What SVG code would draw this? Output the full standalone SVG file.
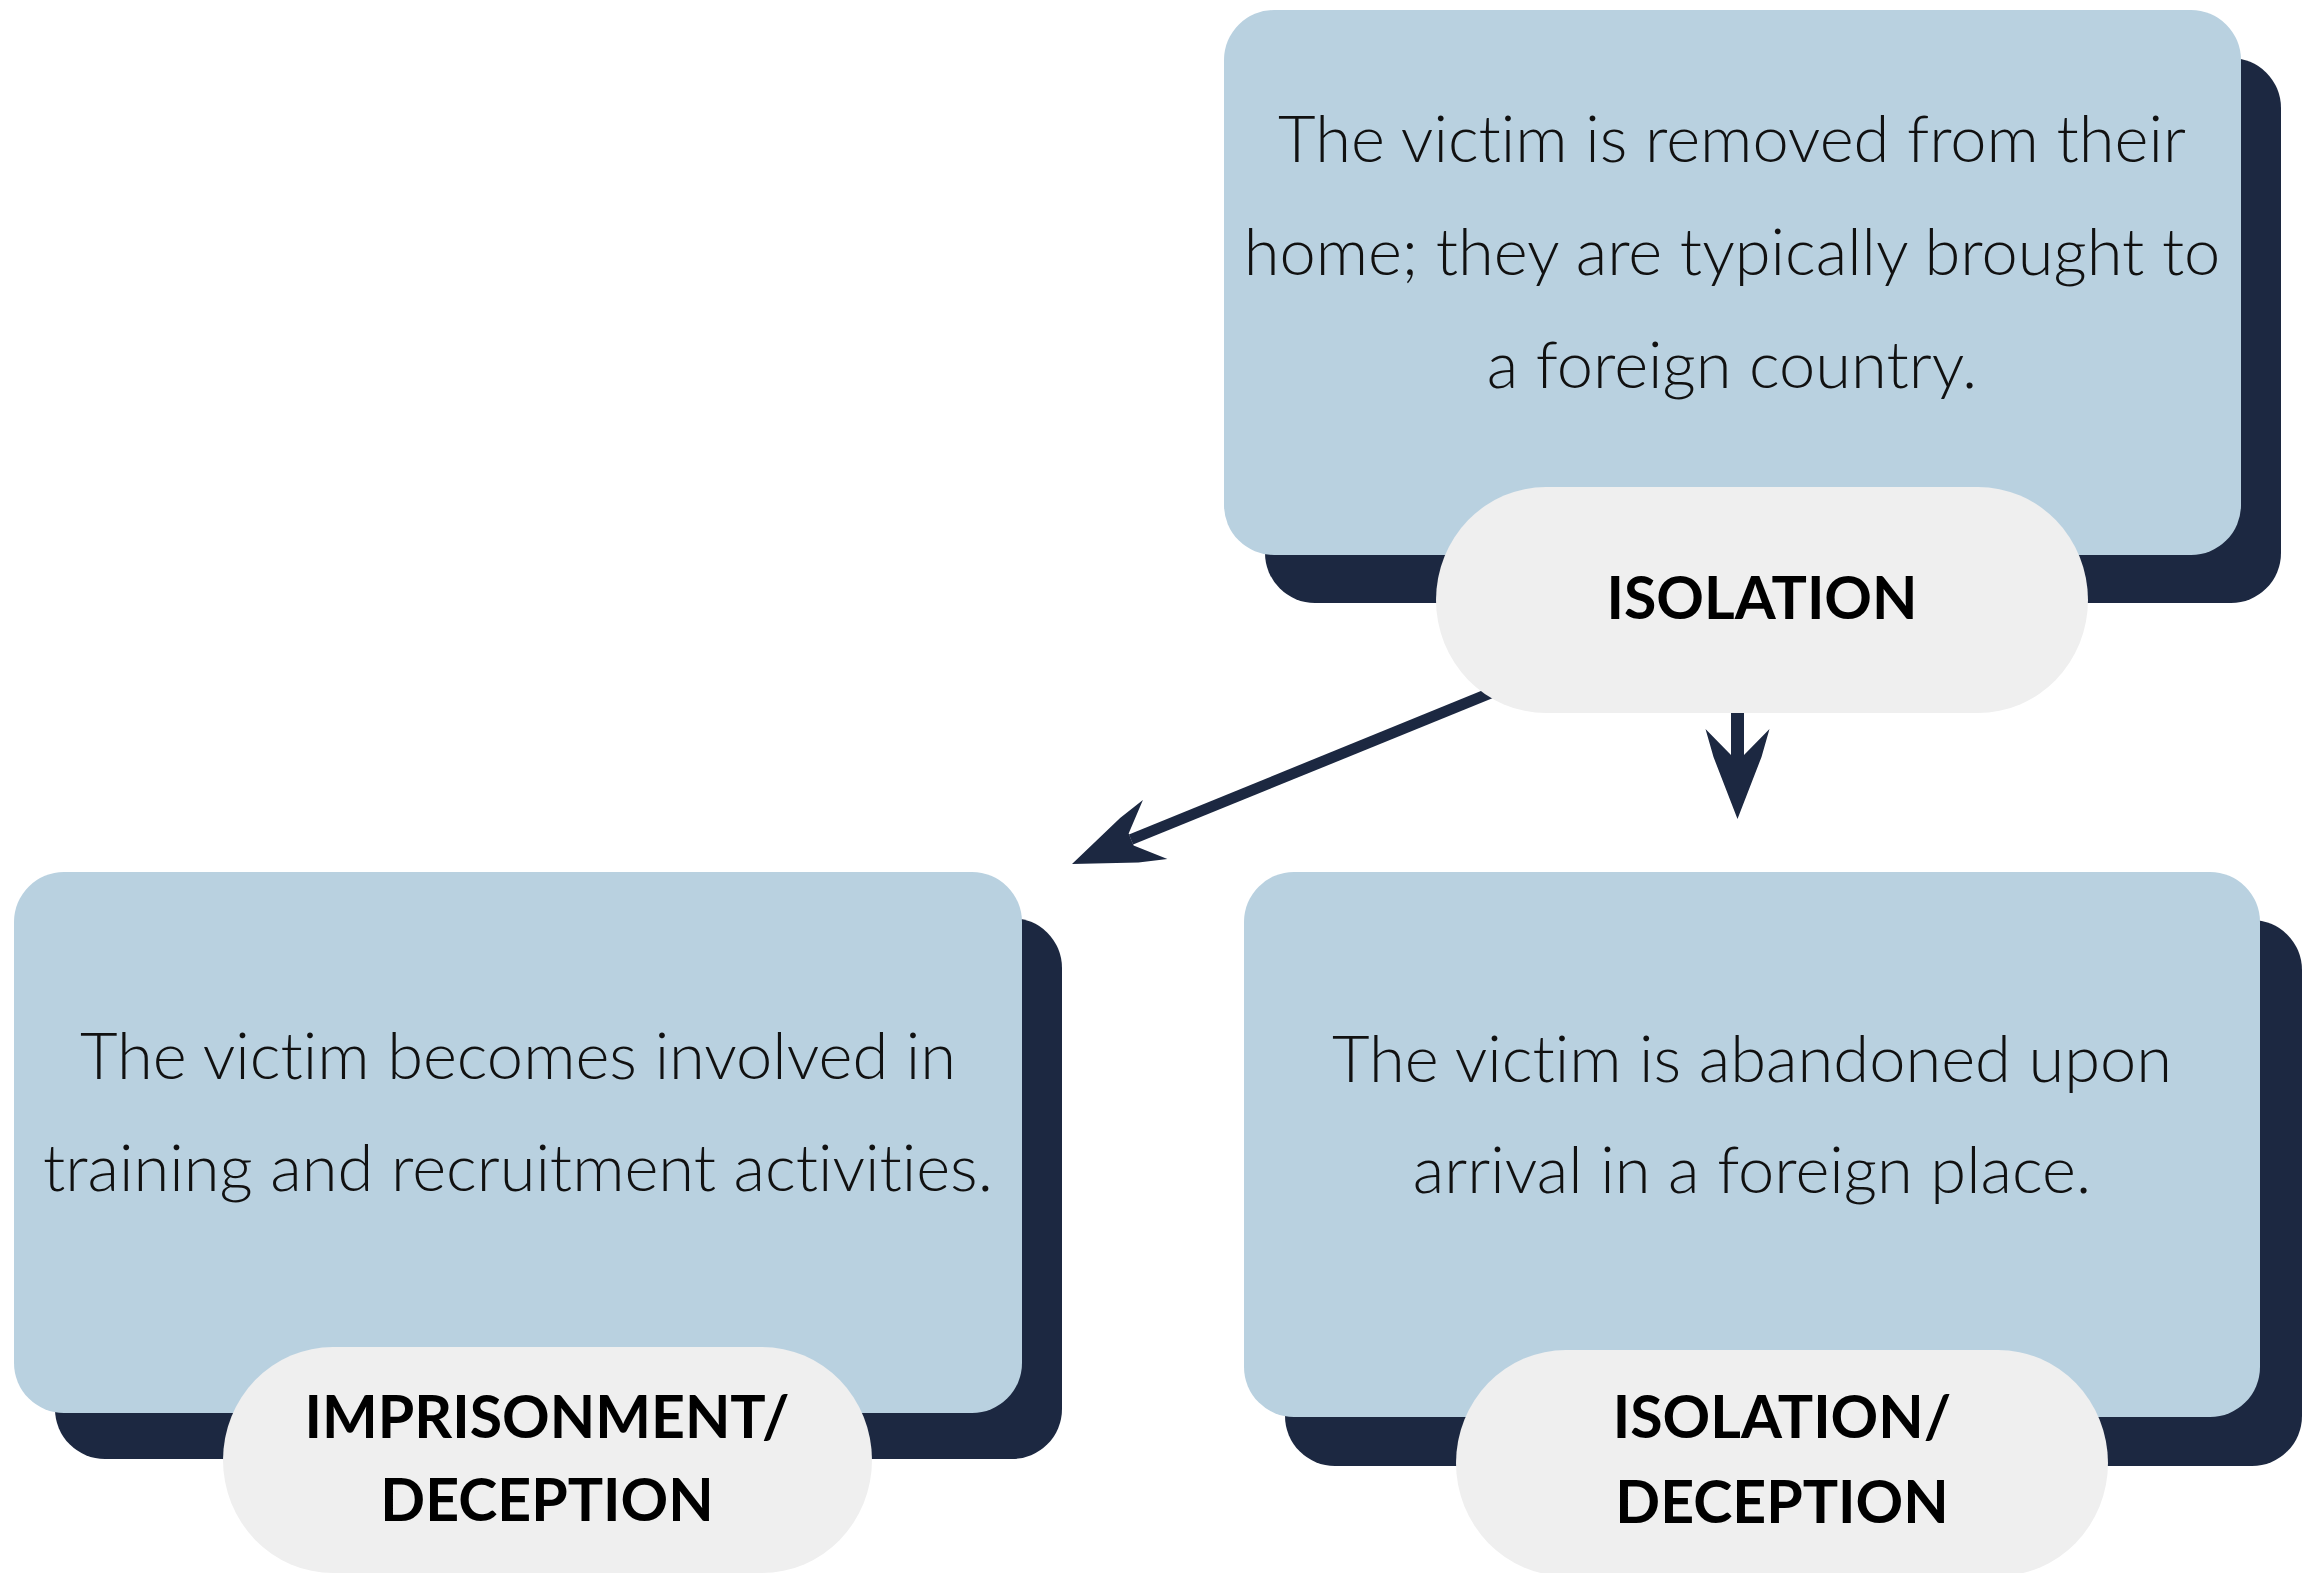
<svg xmlns="http://www.w3.org/2000/svg" xmlns:xlink="http://www.w3.org/1999/xlink" width="2316" height="1573" viewBox="0 0 2316 1573">
<style>
.card{fill:#B9D1E0}
.shadow{fill:#1C2841}
.pill{fill:#EFEFEF}
.body{font-family:Lato,"Liberation Sans",sans-serif;font-weight:300;font-size:65px;fill:#111111;text-anchor:middle;font-variant-ligatures:none}
.label{font-family:Lato,"Liberation Sans",sans-serif;font-weight:700;font-size:59px;fill:#000000;text-anchor:middle}
.line{stroke:#1C2841;fill:none}
.head{fill:#1C2841}
</style>
<defs>
<path id="arrowhead" d="M0,0 L-62,-24 L-90,-32 L-64,-6.5 L-64,6.5 L-90,32 L-62,24 Z"/>
</defs>
<rect width="2316" height="1573" fill="#FFFFFF"/>
<g id="connectors">
<line class="line" x1="1521" y1="680.7" x2="1131" y2="839.5" stroke-width="11"/>
<use xlink:href="#arrowhead" class="head" transform="translate(1072,864) rotate(157.5)"/>
<line class="line" x1="1737.5" y1="700" x2="1737.5" y2="757" stroke-width="13"/>
<use xlink:href="#arrowhead" class="head" transform="translate(1737.5,819) rotate(90)"/>
</g>
<g id="node-isolation">
<rect class="shadow" x="1265" y="58" width="1016" height="545" rx="50" ry="50"/>
<rect class="card" x="1224" y="10" width="1017" height="545" rx="50" ry="50"/>
<text class="body" x="1732" y="162">The victim is removed from their</text>
<text class="body" x="1732" y="275">home; they are typically brought to</text>
<text class="body" x="1732" y="388">a foreign country.</text>
<rect class="pill" x="1436" y="487" width="652" height="226" rx="110" ry="113"/>
<text class="label" x="1762" y="619">ISOLATION</text>
</g>
<g id="node-imprisonment">
<rect class="shadow" x="55" y="918" width="1007" height="541" rx="50" ry="50"/>
<rect class="card" x="14" y="872" width="1008" height="541" rx="50" ry="50"/>
<text class="body" x="518" y="1079">The victim becomes involved in</text>
<text class="body" x="518" y="1191">training and recruitment activities.</text>
<rect class="pill" x="223" y="1347" width="649" height="226" rx="110" ry="113"/>
<text class="label" x="547" y="1438">IMPRISONMENT/</text>
<text class="label" x="547" y="1521">DECEPTION</text>
</g>
<g id="node-abandoned">
<rect class="shadow" x="1285" y="920" width="1017" height="546" rx="50" ry="50"/>
<rect class="card" x="1244" y="872" width="1016" height="545" rx="50" ry="50"/>
<text class="body" x="1752" y="1082">The victim is abandoned upon</text>
<text class="body" x="1752" y="1193">arrival in a foreign place.</text>
<rect class="pill" x="1456" y="1350" width="652" height="226" rx="110" ry="113"/>
<text class="label" x="1782" y="1438">ISOLATION/</text>
<text class="label" x="1782" y="1523">DECEPTION</text>
</g>
</svg>
